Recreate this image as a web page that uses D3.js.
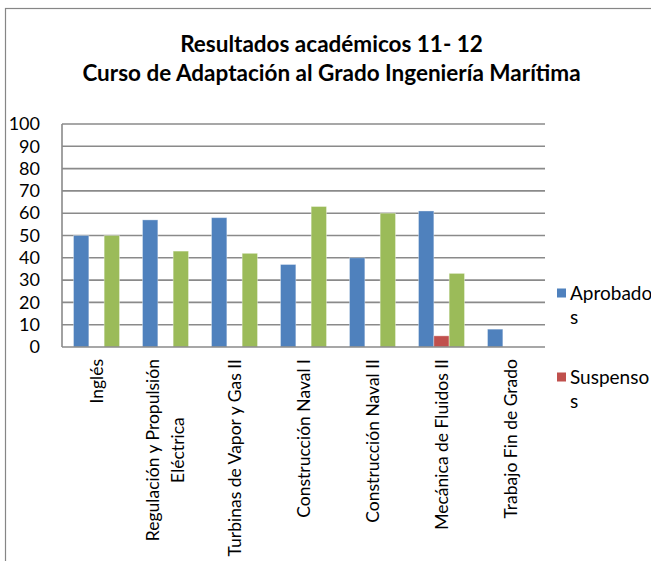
<!DOCTYPE html>
<html lang="es">
<head>
    <meta charset="UTF-8">
    <title>Resultados académicos 11-12</title>
    <style>
        body { margin: 0; background: #fff; }
        svg text { font-family: Lato, "Open Sans", sans-serif; fill: #000; }
    </style>
    <script src="https://d3js.org/d3.v7.min.js"></script>
</head>
<body>
    <div id="chart"></div>
    <script>
        // data
        const categories = [
            "Inglés",
            "Regulación y Propulsión Eléctrica",
            "Turbinas de Vapor y Gas II",
            "Construcción Naval I",
            "Construcción Naval II",
            "Mecánica de Fluidos II",
            "Trabajo Fin de Grado"
        ]
        const seriesNames = ["Aprobados", "Suspensos", "No presentados"]
        const aprobados = [50, 57, 58, 37, 40, 61, 8]
        const suspensos = [0, 0, 0, 0, 0, 5, 0]
        const noPresentados = [50, 43, 42, 63, 60, 33, 0]
        const legendNames = ["Aprobados", "Suspensos"]
        const yTicks = [0, 10, 20, 30, 40, 50, 60, 70, 80, 90, 100]
        const titleLines = ["Resultados académicos 11- 12", "Curso de Adaptación al Grado Ingeniería Marítima"]

        const colorMap = {
            "Aprobados": "#4f81bd",
            "Suspensos": "#c0504d",
            "No presentados": "#9bbb59"
        }

        const W = 651, H = 561
        const plot = {left: 62, right: 545, top: 124, bottom: 347}

        const svg = d3.select("#chart").append("svg")
            .attr("width", W).attr("height", H)

        // outer chart border (cut off on the right and bottom)
        svg.append("rect")
            .attr("x", 5.5).attr("y", 8.5)
            .attr("width", 700).attr("height", 700)
            .attr("fill", "#fff").attr("stroke", "#868686").attr("stroke-width", 1.2)

        // title
        svg.append("text")
            .attr("text-anchor", "middle")
            .style("font-size", "22.5px").style("font-weight", "bold")
            .selectAll("tspan").data(titleLines).join("tspan")
            .attr("x", 331.5)
            .attr("y", (d, i) => 52 + i * 29)
            .text(d => d)

        // scales
        const x0 = d3.scaleBand().domain(categories).range([plot.left, plot.right]).padding(0)
        const bw = x0.bandwidth()
        const off = bw * 0.75 / 4.5
        const x1 = d3.scaleBand().domain(seriesNames).range([off, bw - off]).padding(0)
        const y = d3.scaleLinear().domain([0, 100]).range([plot.bottom, plot.top])

        // gridlines
        svg.append("g").selectAll("line").data(yTicks.filter(d => d > 0)).join("line")
            .attr("x1", plot.left).attr("x2", plot.right)
            .attr("y1", d => y(d)).attr("y2", d => y(d))
            .attr("stroke", "#8a8a8a").attr("stroke-width", 1.6)

        // y axis labels
        const yAxis = svg.append("g")
            .attr("transform", `translate(${plot.left},0)`)
            .call(d3.axisLeft(y).tickValues(yTicks).tickSize(0).tickPadding(22))
        yAxis.select(".domain").remove()
        yAxis.selectAll("text")
            .style("font-size", "18px")
            .style("font-family", "Lato, 'Open Sans', sans-serif")

        // bars
        const rows = categories.map((c, i) => ({
            cat: c,
            values: [
                {name: "Aprobados", value: aprobados[i]},
                {name: "Suspensos", value: suspensos[i]},
                {name: "No presentados", value: noPresentados[i]}
            ]
        }))

        svg.append("g").selectAll("g").data(rows).join("g")
            .attr("transform", d => `translate(${x0(d.cat)},0)`)
            .selectAll("rect").data(d => d.values.filter(v => v.value > 0)).join("rect")
            .attr("x", d => x1(d.name))
            .attr("y", d => y(d.value))
            .attr("width", x1.bandwidth())
            .attr("height", d => y(0) - y(d.value))
            .attr("fill", d => colorMap[d.name])
            .attr("stroke", "#fff").attr("stroke-opacity", 0.35).attr("stroke-width", 1)

        // axis lines
        svg.append("line")
            .attr("x1", plot.left).attr("x2", plot.left)
            .attr("y1", plot.top).attr("y2", plot.bottom)
            .attr("stroke", "#8a8a8a").attr("stroke-width", 1.6)
        svg.append("line")
            .attr("x1", plot.left).attr("x2", plot.right)
            .attr("y1", plot.bottom).attr("y2", plot.bottom)
            .attr("stroke", "#8a8a8a").attr("stroke-width", 1.6)

        // x labels, rotated, wrapped to lines
        const labelSize = 17.5, maxLabel = 210, lineGap = 25
        const measure = svg.append("text").style("font-size", labelSize + "px")
        const textWidth = s => { measure.text(s); return measure.node().getComputedTextLength() }
        const wrap = s => {
            const words = s.split(" "), lines = []
            let cur = ""
            words.forEach(w => {
                const t = cur ? cur + " " + w : w
                if (cur && textWidth(t) > maxLabel) { lines.push(cur); cur = w } else cur = t
            })
            lines.push(cur)
            return lines
        }

        categories.forEach(c => {
            const lines = wrap(c)
            const maxW = d3.max(lines, textWidth)
            const cx = x0(c) + bw / 2
            svg.append("g")
                .attr("transform", `translate(${cx},359) rotate(-90)`)
                .append("text")
                .attr("text-anchor", "middle")
                .style("font-size", labelSize + "px")
                .selectAll("tspan").data(lines).join("tspan")
                .attr("x", -maxW / 2)
                .attr("y", (d, i) => (i - (lines.length - 1) / 2) * lineGap)
                .attr("dy", "0.35em")
                .text(d => d)
        })
        measure.remove()

        // legend (names wrap like the original)
        const legend = svg.append("g")
        legendNames.forEach((name, i) => {
            const cy = 293 + i * 84
            legend.append("rect")
                .attr("x", 557).attr("y", cy - 4.5)
                .attr("width", 9).attr("height", 9)
                .attr("fill", colorMap[name])
            legend.append("text")
                .style("font-size", "19px")
                .selectAll("tspan").data([name.slice(0, -1), name.slice(-1)]).join("tspan")
                .attr("x", 570)
                .attr("y", (d, j) => cy + 6.5 + j * 24)
                .text(d => d)
        })
    </script>
</body>
</html>
